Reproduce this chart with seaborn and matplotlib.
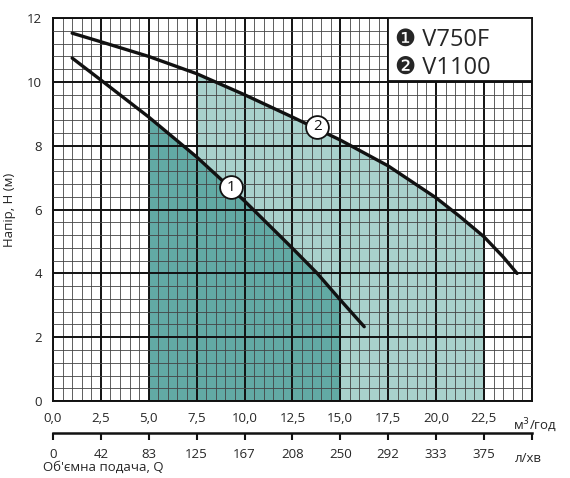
import numpy as np
import pandas as pd
import seaborn as sns
import matplotlib.pyplot as plt
from matplotlib.patches import Rectangle
from matplotlib.ticker import MultipleLocator

# curve 1 (V750F) and curve 2 (V1100), Q in m3/h, H in m
q1 = [1.0, 2.5, 5.0, 7.5, 10.0, 12.5, 13.8, 15.0, 16.25]
h1 = [10.75, 10.06, 8.9, 7.65, 6.27, 4.79, 4.0, 3.17, 2.33]
q2 = [1.0, 2.5, 5.0, 7.5, 10.0, 12.5, 15.0, 17.5, 20.0, 21.25, 22.5, 23.5,
      24.23]
h2 = [11.53, 11.26, 10.8, 10.26, 9.6, 8.9, 8.18, 7.37, 6.37, 5.78, 5.15,
      4.52, 4.0]

# working ranges (m3/h)
range1 = (5.0, 15.0)
range2 = (7.5, 22.5)

x_ticks = [0, 2.5, 5, 7.5, 10, 12.5, 15, 17.5, 20, 22.5, 25]
x_labels = ["0,0", "2,5", "5,0", "7,5", "10,0", "12,5", "15,0", "17,5",
            "20,0", "22,5", ""]
lmin_labels = ["0", "42", "83", "125", "167", "208", "250", "292", "333",
               "375", ""]
y_ticks = [0, 2, 4, 6, 8, 10, 12]
legend_names = ["\u2776 V750F", "\u2777 V1100"]

sns.set_style("white")
plt.rcParams['font.family'] = ['Open Sans', 'DejaVu Sans']

dark = "#62aaa4"
light = "#a9d1cc"

fig = plt.figure(figsize=(5.7, 4.78), dpi=100)
ax = fig.add_axes([0.093, 0.161, 0.84, 0.801])

df1 = pd.DataFrame({"q": q1, "h": h1})
df2 = pd.DataFrame({"q": q2, "h": h2})

m2 = (df2["q"] >= range2[0]) & (df2["q"] <= range2[1])
ax.fill_between(df2["q"][m2], 0, df2["h"][m2], color=light, lw=0, zorder=1)
m1 = (df1["q"] >= range1[0]) & (df1["q"] <= range1[1])
ax.fill_between(df1["q"][m1], 0, df1["h"][m1], color=dark, lw=0, zorder=1.1)

sns.lineplot(data=df1, x="q", y="h", ax=ax, color="#111111", lw=2.4,
             zorder=4, solid_capstyle="round", solid_joinstyle="round",
             sort=False)
sns.lineplot(data=df2, x="q", y="h", ax=ax, color="#111111", lw=2.4,
             zorder=4, solid_capstyle="round", solid_joinstyle="round",
             sort=False)

# numbered markers on curves
for (mx, my, t) in [(9.3, 6.7, "1"), (13.8, 8.6, "2")]:
    ax.scatter([mx], [my], s=270, facecolor="white", edgecolor="#111111",
               linewidth=1.3, zorder=5)
    ax.text(mx, my, t, ha="center", va="center", fontsize=11, zorder=6,
            color="#111111")

ax.set_xlim(0, 25)
ax.set_ylim(0, 12)
ax.set_xticks(x_ticks)
ax.set_xticklabels(x_labels)
ax.set_yticks(y_ticks)
ax.xaxis.set_minor_locator(MultipleLocator(0.5))
ax.yaxis.set_minor_locator(MultipleLocator(0.4))
ax.set_axisbelow(False)
ax.grid(which="major", color="#111111", lw=1.4, zorder=3)
ax.grid(which="minor", color="#444444", lw=0.6, zorder=2)
ax.tick_params(axis="both", which="major", direction="out", length=5,
               width=1.5, color="#111111", labelsize=9.5, pad=3)
ax.tick_params(axis="both", which="minor", length=0)
for s in ax.spines.values():
    s.set_color("#111111")
    s.set_linewidth(1.4)
ax.set_xlabel("")
ax.set_ylabel("Напір, Н (м)", fontsize=9.5, labelpad=8)

# legend box
ax.add_patch(Rectangle((0.70, 0.835), 0.30, 0.165, transform=ax.transAxes,
                       facecolor="white", edgecolor="#111111", lw=1.3,
                       zorder=7))
ax.text(0.715, 0.944, legend_names[0], transform=ax.transAxes, fontsize=17,
        va="center", ha="left", zorder=8)
ax.text(0.715, 0.870, legend_names[1], transform=ax.transAxes, fontsize=17,
        va="center", ha="left", zorder=8)

# second scale in l/min
sec = ax.secondary_xaxis(-0.084)
sec.set_xticks(x_ticks)
sec.set_xticklabels(lmin_labels)
sec.tick_params(direction="out", length=5, width=1.5, color="#111111",
                labelsize=9.5, pad=6)
sec.spines["bottom"].set_linewidth(1.8)
sec.spines["bottom"].set_color("#111111")

fig.text(0.9, 0.110, "м$^3$/год", fontsize=9.5, ha="left", va="center")
fig.text(0.904, 0.040, "л/хв", fontsize=9.5, ha="left", va="center")
fig.text(0.075, 0.022, "Об'ємна подача, Q", fontsize=9.5, ha="left",
         va="center")

fig.savefig("out.png", dpi=100)
